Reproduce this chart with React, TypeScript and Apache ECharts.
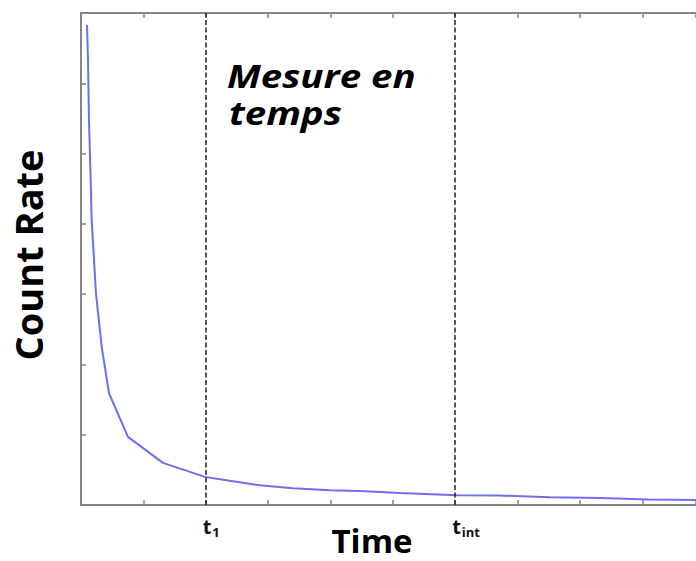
import React, { useEffect, useRef } from "react";
import * as echarts from "echarts";

// Time (x, axis units where one tick = 1) and count rate (y, axis units)
const timeValues = [0.096, 0.112, 0.128, 0.155, 0.171, 0.192, 0.24, 0.332, 0.449, 0.753, 1.314, 1.987, 2.28, 2.87, 3.4, 3.99, 4.47, 5.11, 6.03, 6.71, 7.52, 8.32, 9.1, 9.86];
const countRate = [6.83, 6.33, 5.48, 4.62, 4.05, 3.74, 3.01, 2.25, 1.59, 0.97, 0.6, 0.4, 0.36, 0.28, 0.24, 0.21, 0.2, 0.17, 0.14, 0.135, 0.11, 0.1, 0.08, 0.07];
const markerTimes = [2, 6];
const markerNames = ["1", "int"];
const xLabel = "Time";
const yLabel = "Count Rate";
const noteLines = ["Mesure en", "temps"];

const AXIS = "#858585";
const FONT = "'Open Sans', sans-serif";
const X_MAX = 9.86;

export default function App() {
  const ref = useRef<HTMLDivElement>(null);
  useEffect(() => {
    if (!ref.current) return;
    const chart = echarts.init(ref.current, undefined, { renderer: "svg" });
    const axisCommon = {
      type: "value" as const,
      axisLine: { show: true, lineStyle: { color: AXIS, width: 2 } },
      axisTick: { show: true, inside: true, length: 5, lineStyle: { color: AXIS, width: 1.5 } },
      axisLabel: { show: false },
      splitLine: { show: false },
    };
    chart.setOption({
      animation: false,
      grid: { left: 81, right: 0, top: 13, bottom: 56 },
      xAxis: [
        { ...axisCommon, min: 0, max: X_MAX, interval: 1, position: "bottom" },
        { ...axisCommon, min: 0, max: X_MAX, interval: 1, position: "top" },
      ],
      yAxis: [{ ...axisCommon, min: 0, max: 7, interval: 1 }],
      series: [
        {
          type: "line",
          data: timeValues.map((t, i) => [t, countRate[i]]),
          showSymbol: false,
          lineStyle: { color: "#6e6ef0", width: 2 },
          markLine: {
            silent: true,
            symbol: "none",
            label: { show: false },
            lineStyle: { color: "#222", width: 1.5, type: [5, 2.5] },
            data: markerTimes.map((t) => ({ xAxis: t })),
          },
        },
      ],
    });
    const graphics: any[] = [];
    markerTimes.forEach((t, i) => {
      const px = chart.convertToPixel({ xAxisIndex: 0 }, t) as number;
      graphics.push({
        type: "text",
        x: px - 3,
        y: 526,
        style: { text: "t", font: `bold 20px ${FONT}`, lineHeight: 18, fill: "#111", textVerticalAlign: "middle" },
      });
      graphics.push({
        type: "text",
        x: px + 6.5,
        y: 532,
        style: { text: markerNames[i], font: `bold 13px ${FONT}`, lineHeight: 12, fill: "#111", textVerticalAlign: "middle" },
      });
    });
    graphics.push({
      type: "text",
      x: 372,
      y: 540,
      style: { text: xLabel, font: `bold 33px ${FONT}`, lineHeight: 30, fill: "#000", textAlign: "center", textVerticalAlign: "middle" },
    });
    graphics.push({
      type: "text",
      x: 28,
      y: 255,
      rotation: Math.PI / 2,
      style: { text: yLabel, font: `bold 38px ${FONT}`, fill: "#000", textAlign: "center", textVerticalAlign: "middle" },
    });
    graphics.push({
      type: "text",
      x: 227,
      y: 92,
      scaleX: 1.2,
      style: { text: noteLines[0], font: `italic bold 32px ${FONT}`, lineHeight: 34, fill: "#000", textVerticalAlign: "bottom" },
    });
    graphics.push({
      type: "text",
      x: 229,
      y: 129,
      scaleX: 1.2,
      style: { text: noteLines[1], font: `italic bold 32px ${FONT}`, lineHeight: 34, fill: "#000", textVerticalAlign: "bottom" },
    });
    chart.setOption({ graphic: graphics });
    return () => chart.dispose();
  }, []);
  return <div ref={ref} style={{ position: "absolute", left: 0, top: 0, width: 696, height: 561 }} />;
}
